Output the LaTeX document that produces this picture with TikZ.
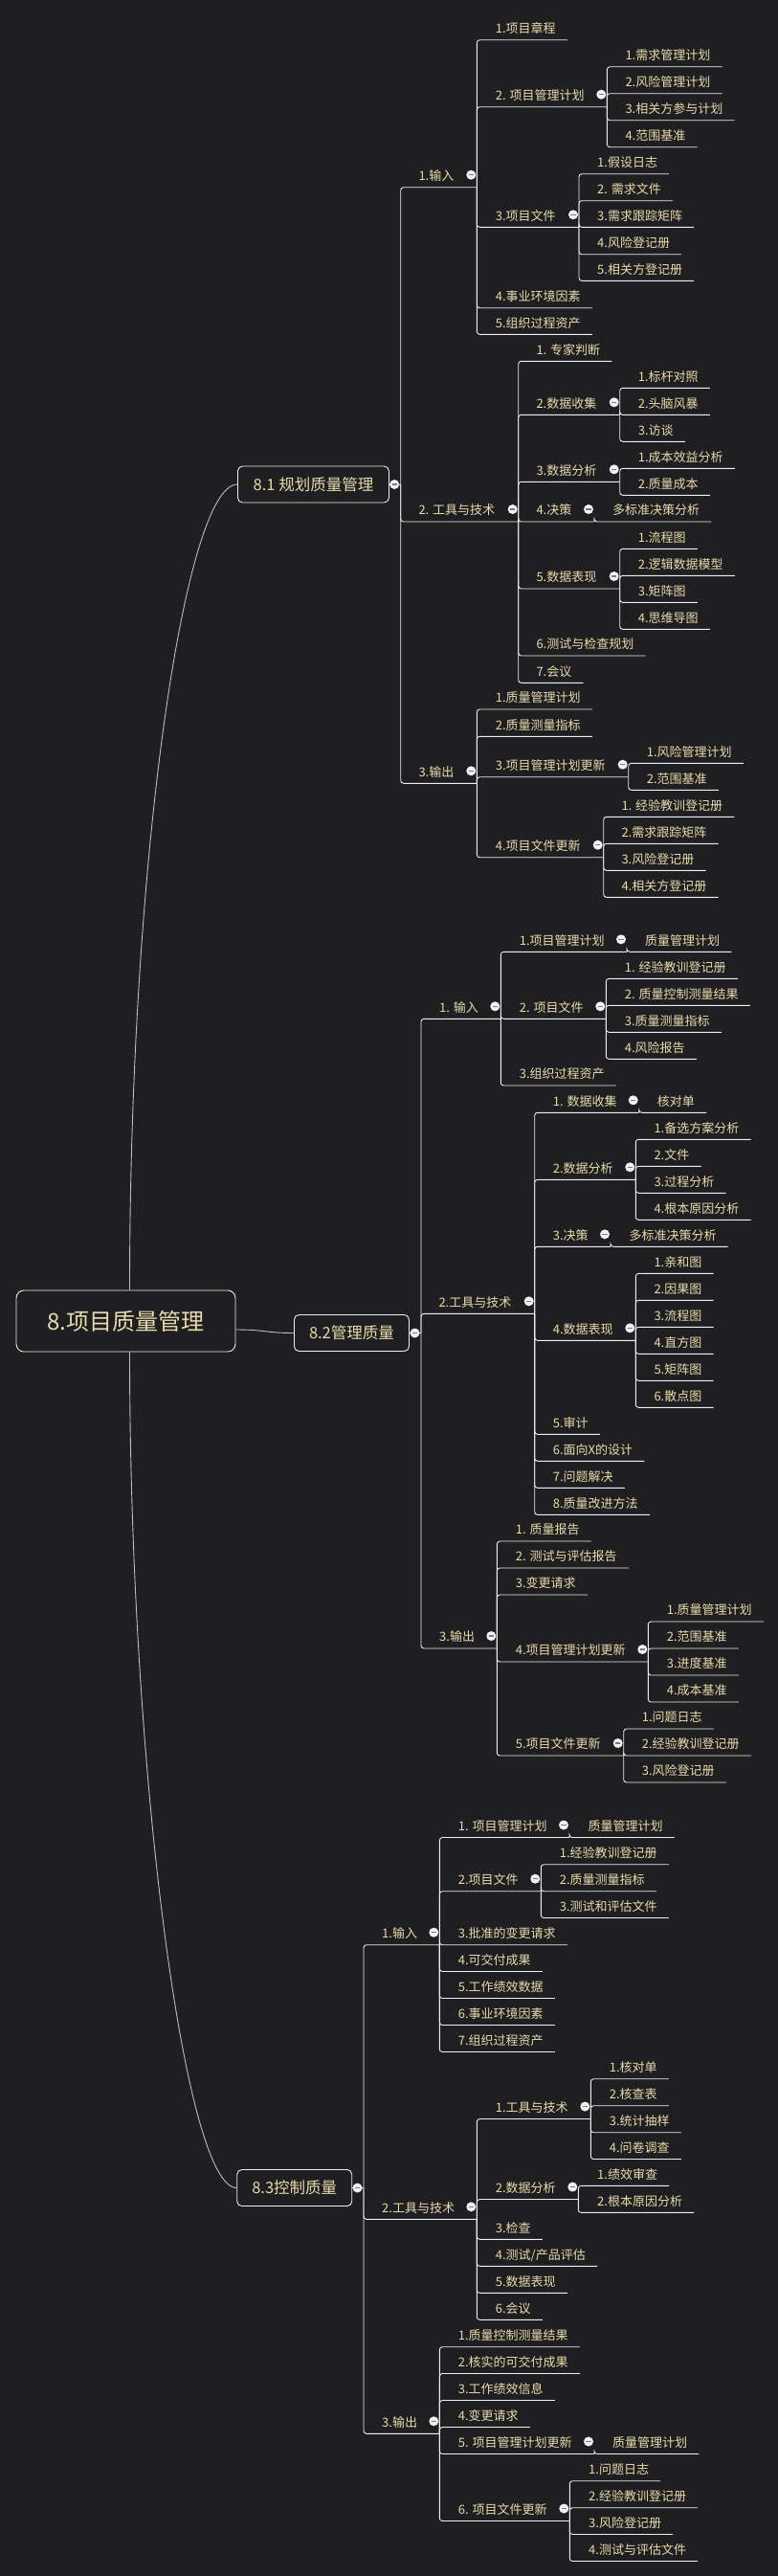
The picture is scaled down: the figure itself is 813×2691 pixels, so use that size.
\documentclass[tikz,border=0pt]{standalone}
\usepackage{fontspec}
\setmainfont{Noto Sans CJK SC}

\definecolor{bgc}{RGB}{31,31,33}
\definecolor{txtc}{RGB}{232,218,172}
\definecolor{linec}{RGB}{238,238,238}
\definecolor{curvec}{RGB}{190,190,190}
\definecolor{minusc}{RGB}{112,122,168}

\tikzset{
  leaf/.style={anchor=south west, inner xsep=0pt, inner ysep=7pt, text depth=0pt,
    text=txtc, font=\fontsize{13}{15}\selectfont},
  link/.style={draw=linec, line width=0.9pt, rounded corners=3pt},
  curvy/.style={draw=curvec, line width=0.9pt},
  sect/.style={draw=linec, line width=0.9pt, rounded corners=5pt, fill=bgc, text=txtc,
    minimum height=38pt, font=\fontsize{16.5}{18}\selectfont},
  rootbox/.style={draw=linec, line width=0.9pt, rounded corners=8pt, fill=bgc, text=txtc,
    minimum width=229pt, minimum height=64pt, font=\fontsize{24}{28}\selectfont},
  knob/.style={circle, fill=white!90!gray, inner sep=0pt, minimum size=10pt,
    path picture={\draw[minusc, line width=1.2pt]
      ([xshift=-2.6pt]path picture bounding box.center) -- ([xshift=2.6pt]path picture bounding box.center);}}
}

\begin{document}
\begin{tikzpicture}[x=1pt,y=-1pt]
\fill[bgc] (0,0) rectangle (813,2691);

% root and the three processes
\node[rootbox] (root) at (131.5,1380) {8.项目质量管理};
\node[sect, minimum width=158pt, anchor=west] (s81) at (248,506) {8.1 规划质量管理};
\node[sect, minimum width=120pt, anchor=west] (s82) at (307,1392.5) {8.2管理质量};
\node[sect, minimum width=120pt, anchor=west] (s83) at (247.3,2285.5) {8.3控制质量};
\draw[curvy] ([xshift=4pt]root.north) .. controls +(0,-450) and +(-55,0) .. (s81.west);
\draw[curvy] ([yshift=-9pt]root.east) .. controls +(32,0) and +(-30,0) .. (s82.west);
\draw[curvy] ([xshift=4pt]root.south) .. controls +(0,430) and +(-55,0) .. (s83.west);

\coordinate (j81) at (418.7,506);
\coordinate (j82) at (440,1392.5);
\coordinate (j83) at (380,2285.5);
\foreach \s in {81,82,83}{
  \draw[link] (s\s.east) -- (j\s);
  \node[knob] (k\s) at ([xshift=-6.5pt]j\s) {};
}

% ---------------- 8.1 ----------------
\coordinate (ja1) at (498.3,195.7);
\node[leaf] (a1) at (437.3,195.7) {1.输入};
\draw[link] (j81) |- (ja1);
\foreach \t/\y [count=\i] in {1.项目章程/41.7, 4.事业环境因素/321.7, 5.组织过程资产/349.3}{
  \node[leaf] (a1-\i) at (517.7,\y) {\t};
  \draw[link] (ja1) |- (a1-\i.south east) -- ++(12,0);
}
\coordinate (ja11) at (634.3,111.7);
\node[leaf] (a11) at (517.7,111.7) {2. 项目管理计划};
\draw[link] (ja1) |- (ja11);
\foreach \t/\y [count=\i] in {1.需求管理计划/69.7, 2.风险管理计划/97.7, 3.相关方参与计划/125.7, 4.范围基准/153.7}{
  \node[leaf] (a11-\i) at (653.3,\y) {\t};
  \draw[link] (ja11) |- (a11-\i.south east) -- ++(12,0);
}
\coordinate (ja12) at (605,237.3);
\node[leaf] (a12) at (517.7,237.3) {3.项目文件};
\draw[link] (ja1) |- (ja12);
\foreach \t/\y [count=\i] in {1.假设日志/181.7, 2. 需求文件/209.7, 3.需求跟踪矩阵/237.3, 4.风险登记册/265.7, 5.相关方登记册/293.3}{
  \node[leaf] (a12-\i) at (624,\y) {\t};
  \draw[link] (ja12) |- (a12-\i.south east) -- ++(12,0);
}

\coordinate (jb1) at (541.7,545);
\node[leaf] (b1) at (437.3,545) {2. 工具与技术};
\draw[link] (j81) |- (jb1);
\foreach \t/\y [count=\i] in {1. 专家判断/377.3, 6.测试与检查规划/685, 7.会议/713.3}{
  \node[leaf] (b1-\i) at (560.3,\y) {\t};
  \draw[link] (jb1) |- (b1-\i.south east) -- ++(12,0);
}
\coordinate (jb11) at (647.7,433.3);
\node[leaf] (b11) at (560.3,433.3) {2.数据收集};
\draw[link] (jb1) |- (jb11);
\foreach \t/\y [count=\i] in {1.标杆对照/405.3, 2.头脑风暴/433.3, 3.访谈/461.3}{
  \node[leaf] (b11-\i) at (666.7,\y) {\t};
  \draw[link] (jb11) |- (b11-\i.south east) -- ++(12,0);
}
\coordinate (jb12) at (647.7,503.3);
\node[leaf] (b12) at (560.3,503.3) {3.数据分析};
\draw[link] (jb1) |- (jb12);
\foreach \t/\y [count=\i] in {1.成本效益分析/489.3, 2.质量成本/517.3}{
  \node[leaf] (b12-\i) at (666.7,\y) {\t};
  \draw[link] (jb12) |- (b12-\i.south east) -- ++(12,0);
}
\coordinate (jb13) at (621,545);
\node[leaf] (b13) at (560.3,545) {4.决策};
\draw[link] (jb1) |- (jb13);
\node[leaf] (b13-1) at (640,545) {多标准决策分析};
\draw[link] (jb13) |- (b13-1.south east) -- ++(12,0);
\coordinate (jb14) at (647.7,615);
\node[leaf] (b14) at (560.3,615) {5.数据表现};
\draw[link] (jb1) |- (jb14);
\foreach \t/\y [count=\i] in {1.流程图/573.3, 2.逻辑数据模型/601.3, 3.矩阵图/629.3, 4.思维导图/657.3}{
  \node[leaf] (b14-\i) at (666.7,\y) {\t};
  \draw[link] (jb14) |- (b14-\i.south east) -- ++(12,0);
}

\coordinate (jc1) at (498.3,818.3);
\node[leaf] (c1) at (437.3,818.3) {3.输出};
\draw[link] (j81) |- (jc1);
\foreach \t/\y [count=\i] in {1.质量管理计划/741, 2.质量测量指标/769.3}{
  \node[leaf] (c1-\i) at (517.7,\y) {\t};
  \draw[link] (jc1) |- (c1-\i.south east) -- ++(12,0);
}
\coordinate (jc11) at (656.7,811.7);
\node[leaf] (c11) at (517.7,811.7) {3.项目管理计划更新};
\draw[link] (jc1) |- (jc11);
\foreach \t/\y [count=\i] in {1.风险管理计划/797.3, 2.范围基准/825.3}{
  \node[leaf] (c11-\i) at (675.7,\y) {\t};
  \draw[link] (jc11) |- (c11-\i.south east) -- ++(12,0);
}
\coordinate (jc12) at (630.7,895.7);
\node[leaf] (c12) at (517.7,895.7) {4.项目文件更新};
\draw[link] (jc1) |- (jc12);
\foreach \t/\y [count=\i] in {1. 经验教训登记册/853.3, 2.需求跟踪矩阵/881.3, 3.风险登记册/909.3, 4.相关方登记册/937.3}{
  \node[leaf] (c12-\i) at (649.3,\y) {\t};
  \draw[link] (jc12) |- (c12-\i.south east) -- ++(12,0);
}

% ---------------- 8.2 ----------------
\coordinate (ja2) at (523.3,1064.3);
\node[leaf] (a2) at (459,1064.3) {1. 输入};
\draw[link] (j82) |- (ja2);
\node[leaf] (a2-1) at (542.7,1134) {3.组织过程资产};
\draw[link] (ja2) |- (a2-1.south east) -- ++(12,0);
\coordinate (ja21) at (655,994.3);
\node[leaf] (a21) at (542.7,994.3) {1.项目管理计划};
\draw[link] (ja2) |- (ja21);
\node[leaf] (a21-1) at (674,994.3) {质量管理计划};
\draw[link] (ja21) |- (a21-1.south east) -- ++(12,0);
\coordinate (ja22) at (633.3,1064.3);
\node[leaf] (a22) at (542.7,1064.3) {2. 项目文件};
\draw[link] (ja2) |- (ja22);
\foreach \t/\y [count=\i] in {1. 经验教训登记册/1022.3, 2. 质量控制测量结果/1050.3, 3.质量测量指标/1078.3, 4.风险报告/1106.3}{
  \node[leaf] (a22-\i) at (652.7,\y) {\t};
  \draw[link] (ja22) |- (a22-\i.south east) -- ++(12,0);
}

\coordinate (jb2) at (558.7,1372.3);
\node[leaf] (b2) at (458.3,1372.3) {2.工具与技术};
\draw[link] (j82) |- (jb2);
\foreach \t/\y [count=\i] in {5.审计/1498.3, 6.面向X的设计/1526.3, 7.问题解决/1554.3, 8.质量改进方法/1582.3}{
  \node[leaf] (b2-\i) at (577.7,\y) {\t};
  \draw[link] (jb2) |- (b2-\i.south east) -- ++(12,0);
}
\coordinate (jb21) at (667.7,1162.3);
\node[leaf] (b21) at (577.7,1162.3) {1. 数据收集};
\draw[link] (jb2) |- (jb21);
\node[leaf] (b21-1) at (686.7,1162.3) {核对单};
\draw[link] (jb21) |- (b21-1.south east) -- ++(12,0);
\coordinate (jb22) at (664.3,1232.3);
\node[leaf] (b22) at (577.7,1232.3) {2.数据分析};
\draw[link] (jb2) |- (jb22);
\foreach \t/\y [count=\i] in {1.备选方案分析/1190.3, 2.文件/1218.3, 3.过程分析/1246.3, 4.根本原因分析/1274.3}{
  \node[leaf] (b22-\i) at (683.3,\y) {\t};
  \draw[link] (jb22) |- (b22-\i.south east) -- ++(12,0);
}
\coordinate (jb23) at (638,1302.3);
\node[leaf] (b23) at (577.7,1302.3) {3.决策};
\draw[link] (jb2) |- (jb23);
\node[leaf] (b23-1) at (657.3,1302.3) {多标准决策分析};
\draw[link] (jb23) |- (b23-1.south east) -- ++(12,0);
\coordinate (jb24) at (664.3,1400.3);
\node[leaf] (b24) at (577.7,1400.3) {4.数据表现};
\draw[link] (jb2) |- (jb24);
\foreach \t/\y [count=\i] in {1.亲和图/1330.3, 2.因果图/1358.3, 3.流程图/1386.3, 4.直方图/1414.3, 5.矩阵图/1442.3, 6.散点图/1470.3}{
  \node[leaf] (b24-\i) at (683.3,\y) {\t};
  \draw[link] (jb24) |- (b24-\i.south east) -- ++(12,0);
}

\coordinate (jc2) at (519.3,1722);
\node[leaf] (c2) at (459,1722) {3.输出};
\draw[link] (j82) |- (jc2);
\foreach \t/\y [count=\i] in {1. 质量报告/1610, 2. 测试与评估报告/1638, 3.变更请求/1666}{
  \node[leaf] (c2-\i) at (538.7,\y) {\t};
  \draw[link] (jc2) |- (c2-\i.south east) -- ++(12,0);
}
\coordinate (jc21) at (677.3,1736);
\node[leaf] (c21) at (538.7,1736) {4.项目管理计划更新};
\draw[link] (jc2) |- (jc21);
\foreach \t/\y [count=\i] in {1.质量管理计划/1694, 2.范围基准/1722, 3.进度基准/1750, 4.成本基准/1778}{
  \node[leaf] (c21-\i) at (696.7,\y) {\t};
  \draw[link] (jc21) |- (c21-\i.south east) -- ++(12,0);
}
\coordinate (jc22) at (651.7,1834);
\node[leaf] (c22) at (538.7,1834) {5.项目文件更新};
\draw[link] (jc2) |- (jc22);
\foreach \t/\y [count=\i] in {1.问题日志/1806, 2.经验教训登记册/1834, 3.风险登记册/1862}{
  \node[leaf] (c22-\i) at (670.7,\y) {\t};
  \draw[link] (jc22) |- (c22-\i.south east) -- ++(12,0);
}

% ---------------- 8.3 ----------------
\coordinate (ja3) at (459.3,2031.7);
\node[leaf] (a3) at (399,2031.7) {1.输入};
\draw[link] (j83) |- (ja3);
\foreach \t/\y [count=\i] in {3.批准的变更请求/2031.7, 4.可交付成果/2059.5, 5.工作绩效数据/2087.5, 6.事业环境因素/2115.5, 7.组织过程资产/2143.5}{
  \node[leaf] (a3-\i) at (478.7,\y) {\t};
  \draw[link] (ja3) |- (a3-\i.south east) -- ++(12,0);
}
\coordinate (ja31) at (595,1919.5);
\node[leaf] (a31) at (478.7,1919.5) {1. 项目管理计划};
\draw[link] (ja3) |- (ja31);
\node[leaf] (a31-1) at (614.3,1919.5) {质量管理计划};
\draw[link] (ja31) |- (a31-1.south east) -- ++(12,0);
\coordinate (ja32) at (565.3,1975.7);
\node[leaf] (a32) at (478.7,1975.7) {2.项目文件};
\draw[link] (ja3) |- (ja32);
\foreach \t/\y [count=\i] in {1.经验教训登记册/1947.7, 2.质量测量指标/1975.7, 3.测试和评估文件/2003.5}{
  \node[leaf] (a32-\i) at (584.7,\y) {\t};
  \draw[link] (ja32) |- (a32-\i.south east) -- ++(12,0);
}

\coordinate (jb3) at (498.3,2318.3);
\node[leaf] (b3) at (399,2318.3) {2.工具与技术};
\draw[link] (j83) |- (jb3);
\foreach \t/\y [count=\i] in {3.检查/2339.3, {4.测试/产品评估}/2367.3, 5.数据表现/2395.3, 6.会议/2423.3}{
  \node[leaf] (b3-\i) at (517.7,\y) {\t};
  \draw[link] (jb3) |- (b3-\i.south east) -- ++(12,0);
}
\coordinate (jb31) at (617.3,2213.5);
\node[leaf] (b31) at (517.7,2213.5) {1.工具与技术};
\draw[link] (jb3) |- (jb31);
\foreach \t/\y [count=\i] in {1.核对单/2171.7, 2.核查表/2199.7, 3.统计抽样/2227.7, 4.问卷调查/2255.5}{
  \node[leaf] (b31-\i) at (636.7,\y) {\t};
  \draw[link] (jb31) |- (b31-\i.south east) -- ++(12,0);
}
\coordinate (jb32) at (604.3,2297.5);
\node[leaf] (b32) at (517.7,2297.5) {2.数据分析};
\draw[link] (jb3) |- (jb32);
\foreach \t/\y [count=\i] in {1.绩效审查/2283.3, 2.根本原因分析/2311.3}{
  \node[leaf] (b32-\i) at (624,\y) {\t};
  \draw[link] (jb32) |- (b32-\i.south east) -- ++(12,0);
}

\coordinate (jc3) at (459.3,2542.3);
\node[leaf] (c3) at (399,2542.3) {3.输出};
\draw[link] (j83) |- (jc3);
\foreach \t/\y [count=\i] in {1.质量控制测量结果/2451.7, 2.核实的可交付成果/2479.5, 3.工作绩效信息/2507.5, 4.变更请求/2535.5}{
  \node[leaf] (c3-\i) at (478.7,\y) {\t};
  \draw[link] (jc3) |- (c3-\i.south east) -- ++(12,0);
}
\coordinate (jc31) at (621,2563.5);
\node[leaf] (c31) at (478.7,2563.5) {5. 项目管理计划更新};
\draw[link] (jc3) |- (jc31);
\node[leaf] (c31-1) at (640,2563.5) {质量管理计划};
\draw[link] (jc31) |- (c31-1.south east) -- ++(12,0);
\coordinate (jc32) at (595.3,2633.5);
\node[leaf] (c32) at (478.7,2633.5) {6. 项目文件更新};
\draw[link] (jc3) |- (jc32);
\foreach \t/\y [count=\i] in {1.问题日志/2591.7, 2.经验教训登记册/2619.7, 3.风险登记册/2647.5, 4.测试与评估文件/2675.5}{
  \node[leaf] (c32-\i) at (615,\y) {\t};
  \draw[link] (jc32) |- (c32-\i.south east) -- ++(12,0);
}

% collapse knobs
\foreach \j in {ja1,ja11,ja12,jb1,jb11,jb12,jb13,jb14,jc1,jc11,jc12,
  ja2,ja21,ja22,jb2,jb21,jb22,jb23,jb24,jc2,jc21,jc22,
  ja3,ja31,ja32,jb3,jb31,jb32,jc3,jc31,jc32}
  \node[knob] (k\j) at ([xshift=-6pt,yshift=13pt]\j) {};
\end{tikzpicture}
\end{document}
